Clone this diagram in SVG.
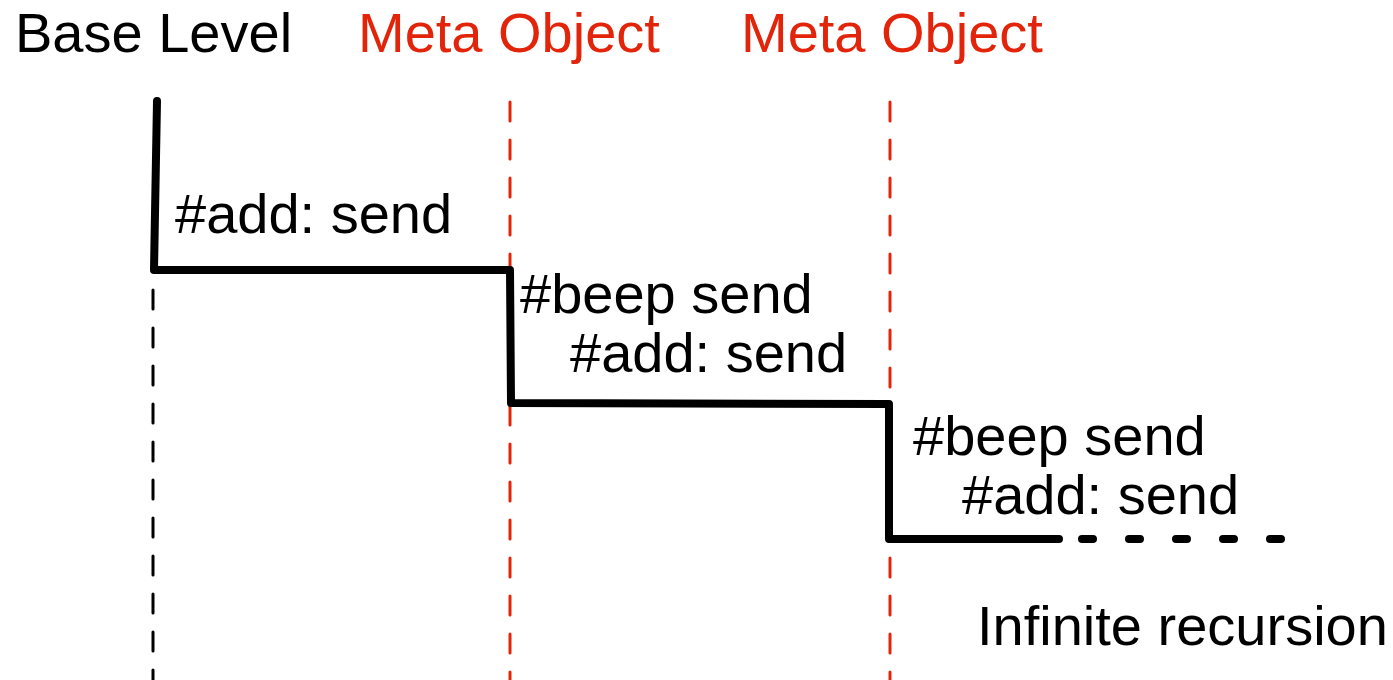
<svg xmlns="http://www.w3.org/2000/svg" width="1393" height="680" viewBox="0 0 1393 680">
<style>
text{font-family:"Liberation Sans",Arial,sans-serif;font-size:56px;fill:#000}
.red{fill:#e2250a}
.dash{fill:none;stroke-width:3;stroke-linecap:round;stroke-dasharray:19 19}
.thick{fill:none;stroke:#000;stroke-width:8;stroke-linejoin:round;stroke-linecap:round}
</style>
<rect width="1393" height="680" fill="#fff"/>
<g id="base-level">
<text x="15" y="52">Base Level</text>
</g>
<g id="meta-object-1">
<text class="red" x="358" y="52">Meta Object</text>
</g>
<g id="meta-object-2">
<text class="red" x="741" y="52">Meta Object</text>
</g>
<g id="lifelines">
<line class="dash" x1="153" y1="290" x2="153" y2="690" stroke="#000"/>
<line class="dash" x1="510" y1="102" x2="510" y2="690" stroke="#e2250a"/>
<line class="dash" x1="890" y1="102" x2="890" y2="690" stroke="#e2250a"/>
</g>
<g id="connectors">
<path class="thick" d="M157,101 L154,270 L510,270 L511,403 L889,404 L889,539 L1059,539"/>
<path class="thick" d="M1082,539 H1284" stroke-dasharray="11 36"/>
</g>
<g id="labels">
<text x="175" y="233">#add: send</text>
<text x="520" y="313">#beep send</text>
<text x="570" y="372">#add: send</text>
<text x="913" y="455">#beep send</text>
<text x="962" y="514">#add: send</text>
<text x="977" y="645">Infinite recursion</text>
</g>
</svg>
